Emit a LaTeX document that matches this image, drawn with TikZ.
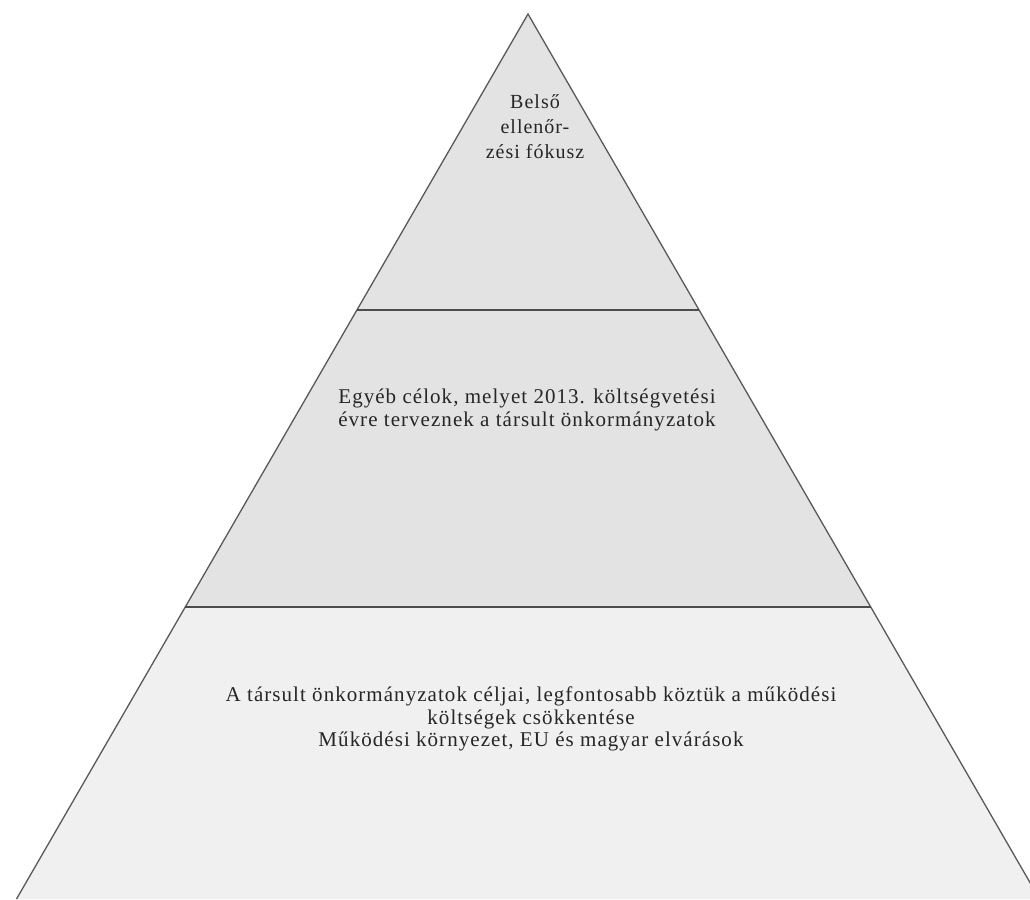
\documentclass[tikz,border=0pt]{standalone}
\usepackage{fontspec}
\setmainfont{Liberation Serif}[LetterSpace=5]
\begin{document}
\begin{tikzpicture}[x=1pt,y=-1pt,
  edge/.style={draw=black!65,line width=1.3pt},
  divider/.style={draw=black!70,line width=2.2pt},
  upperfill/.style={fill=black!11},
  lowerfill/.style={fill=black!6},
  label/.style={align=center,font=\fontsize{21}{22.5}\selectfont,text=black!85,inner sep=0pt},
  toplabel/.style={label,font=\fontsize{20}{25}\selectfont}]
\useasboundingbox (0,0) rectangle (1030,899);
\coordinate (apex) at (528,14);
\coordinate (t1l) at (357,310);
\coordinate (t1r) at (699,310);
\coordinate (t2l) at (185,607);
\coordinate (t2r) at (871,607);
\coordinate (bl) at (16.5,899);
\coordinate (br) at (1039.5,899);
\begin{scope}
\clip (0,0) rectangle (1030,899);
\fill[upperfill] (apex) -- (t1r) -- (t1l) -- cycle;
\fill[upperfill] (t1l) -- (t1r) -- (t2r) -- (t2l) -- cycle;
\fill[lowerfill] (t2l) -- (t2r) -- (br) -- (bl) -- cycle;
\draw[edge] (bl) -- (apex) -- (br);
\draw[divider] (t1l) -- (t1r);
\draw[divider] (t2l) -- (t2r);
\end{scope}
\node[toplabel] (top) at (535,127) {Belső\\ellenőr-\\zési fókusz};
\node[label] (mid) at (527,410) {Egyéb célok, melyet 2013. költségvetési\\évre terveznek a társult önkormányzatok};
\node[label] (bot) at (531,719) {A társult önkormányzatok céljai, legfontosabb köztük a működési\\költségek csökkentése\\Működési környezet, EU és magyar elvárások};
\end{tikzpicture}
\end{document}
